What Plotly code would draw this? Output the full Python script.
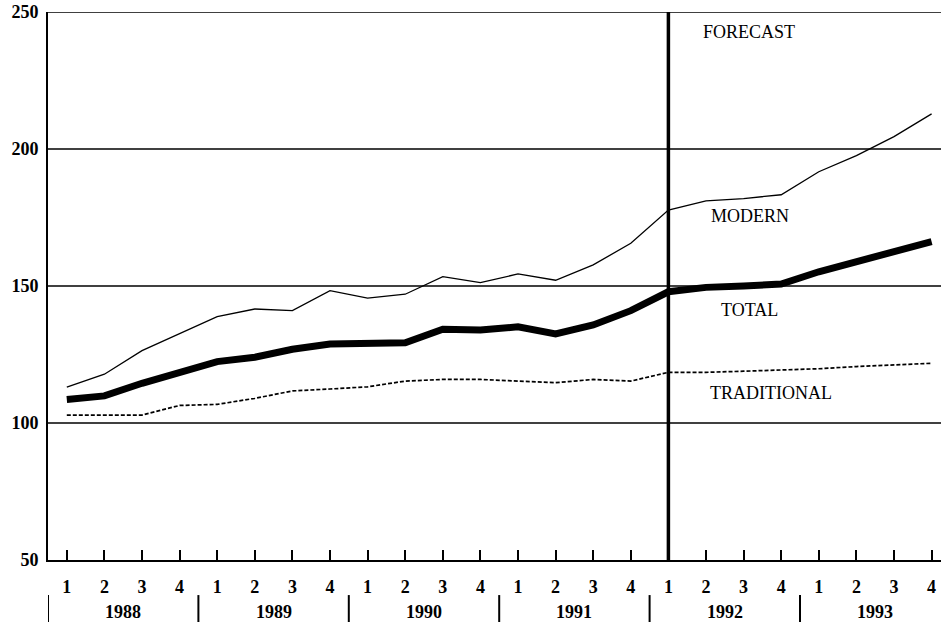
import plotly.graph_objects as go

years = ["1988", "1989", "1990", "1991", "1992", "1993"]
quarters = ["1", "2", "3", "4"]
quarter_labels = [q for y in years for q in quarters]

modern = [113.1, 117.8, 126.4, 132.6, 138.8, 141.6, 141.0, 148.3,
          145.6, 147.0, 153.4, 151.2, 154.4, 152.1, 157.7, 165.6,
          177.7, 181.1, 181.9, 183.3, 191.7, 197.6, 204.5, 212.8]
total = [108.6, 109.9, 114.5, 118.6, 122.4, 124.0, 126.9, 128.8,
         129.3, 129.3, 134.2, 133.9, 135.1, 132.5, 135.8, 141.0,
         147.9, 149.5, 150.0, 150.7, 155.2, 158.9, 162.2, 166.2]
traditional = [102.9, 102.9, 102.9, 106.4, 106.8, 109.0, 111.7, 112.4,
               113.2, 115.3, 115.9, 115.9, 115.4, 114.7, 115.9, 115.3,
               118.5, 118.5, 118.9, 119.3, 119.8, 120.6, 121.2, 121.8]
y_ticks = [50, 100, 150, 200, 250]
grid_values = [100, 150, 200, 250]
forecast_start = 16

xs = list(range(len(quarter_labels)))
FONT = "Liberation Serif"

fig = go.Figure()
fig.add_trace(go.Scatter(x=xs, y=traditional, mode="lines",
                         line=dict(color="black", width=1.7, dash="4px,2px")))
fig.add_trace(go.Scatter(x=xs, y=modern, mode="lines",
                         line=dict(color="black", width=1.3)))
fig.add_trace(go.Scatter(x=xs, y=total, mode="lines",
                         line=dict(color="black", width=7)))

shapes = []
for g in grid_values:
    shapes.append(dict(type="line", xref="paper", yref="y", x0=0, x1=1, y0=g, y1=g,
                       line=dict(color="black", width=1.5), layer="below"))
shapes.append(dict(type="line", xref="x", yref="paper", x0=forecast_start, x1=forecast_start,
                   y0=0, y1=1, line=dict(color="black", width=3.5)))
for i in range(len(years)):
    xsep = -0.5 + 4 * i
    shapes.append(dict(type="line", xref="x", yref="paper", x0=xsep, x1=xsep,
                       y0=-0.064, y1=-0.115, line=dict(color="black", width=2)))

annotations = []
for i, yr in enumerate(years):
    annotations.append(dict(x=1.5 + 4 * i, y=-0.094, xref="x", yref="paper",
                            text=yr, showarrow=False, yanchor="middle",
                            font=dict(family=FONT, size=18, color="black", weight="bold")))
labels = [("FORECAST", 18.14, 242.6), ("MODERN", 18.16, 175.7), ("TOTAL", 18.16, 141.2),
          ("TRADITIONAL", 18.72, 110.9)]
for text, xv, yv in labels:
    annotations.append(dict(x=xv, y=yv, xref="x", yref="y", text=text, showarrow=False,
                            font=dict(family=FONT, size=18, color="black")))

fig.update_layout(
    width=941, height=622,
    margin=dict(l=48, r=0, t=12, b=62),
    paper_bgcolor="white", plot_bgcolor="white",
    showlegend=False,
    shapes=shapes, annotations=annotations,
    xaxis=dict(range=[-0.5, 23.25], tickvals=xs, ticktext=quarter_labels,
               ticks="inside", ticklen=10, tickwidth=1.5, tickcolor="black",
               showgrid=False, zeroline=False, showline=True, linecolor="black", linewidth=2,
               tickfont=dict(family=FONT, size=18, color="black", weight="bold"),
               ticklabelstandoff=9),
    yaxis=dict(range=[50, 250], tickvals=y_ticks, ticks="", showgrid=False, zeroline=False,
               showline=True, linecolor="black", linewidth=2, ticklabelstandoff=4,
               tickfont=dict(family=FONT, size=18, color="black", weight="bold")),
)

fig.write_html("out.html", config={"displayModeBar": False},
               post_script="document.body.style.margin='0';document.body.style.overflow='hidden';")
